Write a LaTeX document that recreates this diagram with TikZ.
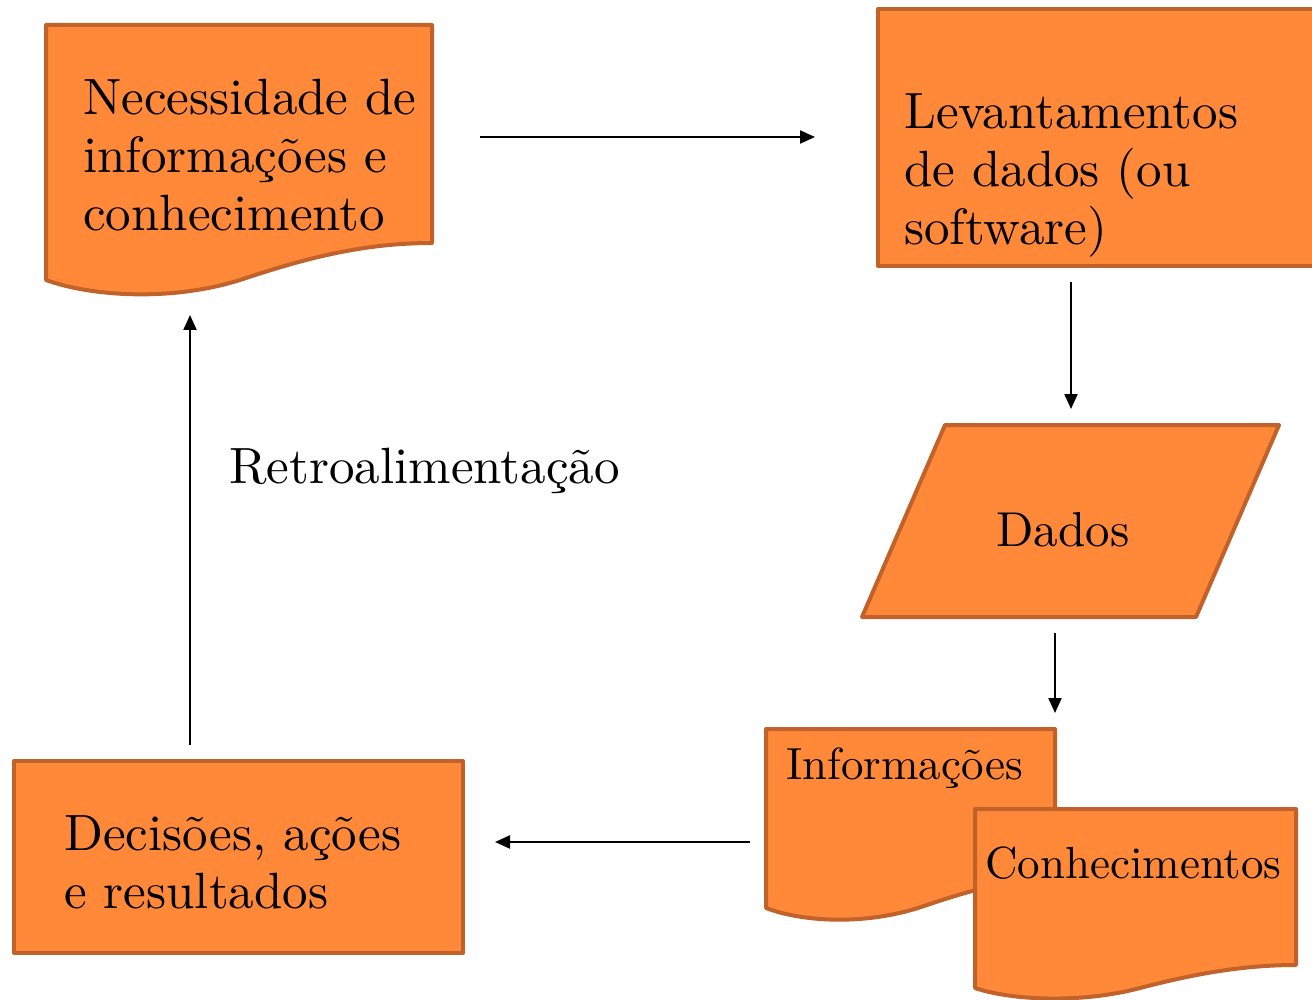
\documentclass[tikz,border=0pt]{standalone}
\usepackage{fontspec}
\setmainfont{lmroman10-regular.otf}
\usetikzlibrary{arrows.meta}
\definecolor{fillor}{RGB}{255,137,56}
\definecolor{edgeor}{RGB}{192,98,42}
\begin{document}
\begin{tikzpicture}[x=1pt,y=-1pt,
  shapebox/.style={fill=fillor,draw=edgeor,line width=4pt,line join=round},
  txt/.style={font=\fontsize{51}{58}\selectfont,align=left,inner sep=0pt,anchor=west},
  smalltxt/.style={font=\fontsize{45}{52}\selectfont,align=left,inner sep=0pt,anchor=west},
  conn/.style={line width=2.2pt,-{Triangle[length=15pt,width=13pt]}}]
\useasboundingbox (0,0) rectangle (1312,1000);
% document shape 1
\draw[shapebox] (46,25) -- (432,25) -- (432,243)
  .. controls (360,243) and (300,260) .. (240,280)
  .. controls (170,302) and (90,296) .. (46,280) -- cycle;
% rectangle 2
\draw[shapebox] (878,9) rectangle (1320,266);
% parallelogram
\draw[shapebox] (945,425) -- (1279,425) -- (1196,617) -- (862,617) -- cycle;
% Informacoes document
\draw[shapebox] (766,729) -- (1055,729) -- (1055,880)
  .. controls (1000,880) and (963,893) .. (918,908)
  .. controls (860,926) and (800,921) .. (766,908) -- cycle;
% Conhecimentos document
\draw[shapebox] (975,809) -- (1296,809) -- (1296,965)
  .. controls (1240,965) and (1190,975) .. (1140,988)
  .. controls (1080,1004) and (1010,1000) .. (975,988) -- cycle;
% Decisoes box
\draw[shapebox] (14,761) rectangle (463,953);

% texts
\node[txt] (necess) at (83,155) {Necessidade de\\informações e\\conhecimento};
\node[txt] (levant) at (904,175) {Levantamentos\\de dados (ou\\software)};
\node[font=\fontsize{49}{58}\selectfont,inner sep=0pt] (dados) at (1063,530) {Dados};
\node[smalltxt] (inform) at (786,768) {Informações};
\node[smalltxt] (conhec) at (985,863) {Conhecimentos};
\node[txt] (decis) at (64,862) {Decisões, ações\\e resultados};
\node[txt] (retro) at (229,471) {Retroalimentação};

% connector ends
\coordinate (a1s) at (480,137);
\coordinate (a1e) at (815,137);
\coordinate (a2s) at (1071,282);
\coordinate (a2e) at (1071,409);
\coordinate (a3s) at (1055,633);
\coordinate (a3e) at (1055,713);
\coordinate (a4s) at (750,842);
\coordinate (a4e) at (495,842);
\coordinate (a5s) at (190,745);
\coordinate (a5e) at (190,315);

\draw[conn] (a1s) -- (a1e);
\draw[conn] (a2s) -- (a2e);
\draw[conn] (a3s) -- (a3e);
\draw[conn] (a4s) -- (a4e);
\draw[conn] (a5s) -- (a5e);
\end{tikzpicture}
\end{document}
